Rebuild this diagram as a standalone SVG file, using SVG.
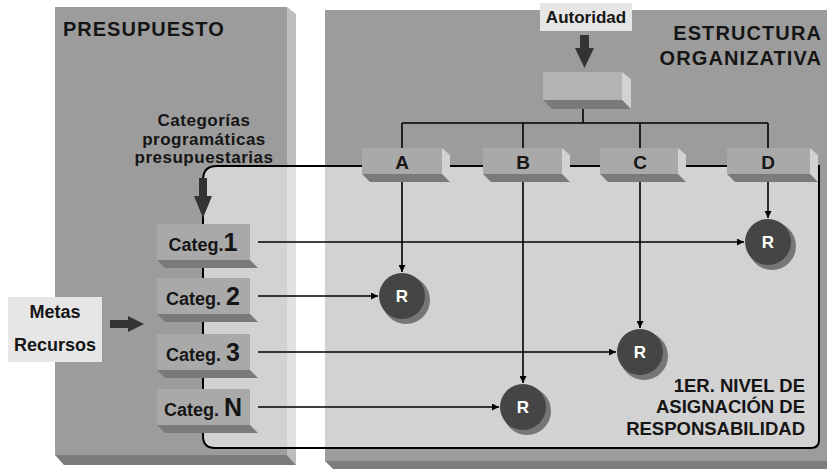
<svg xmlns="http://www.w3.org/2000/svg" width="827" height="473" viewBox="0 0 827 473">
<style>
text{font-family:"Liberation Sans",Arial,sans-serif;font-weight:bold;fill:#151515}
.panel{fill:#9c9c9c}
.pside{fill:#bdbdbd}
.pbot{fill:#7c7c7c}
.front{fill:#a9a9a9}
.side{fill:#d2d2d2}
.bot{fill:#7a7a7a}
.line{stroke:#000;stroke-width:1.6;fill:none}
.big{fill:#333}
.lbl{fill:#e6e6e6}
.rsh{fill:#767676}
.rc{fill:#454545}
.rt{fill:#fff;font-size:17px;text-anchor:middle}
.ct{font-size:18px;text-anchor:middle}
.cn{font-size:25px}
.cat{font-size:17px;letter-spacing:0.5px;text-anchor:middle}
</style>
<defs>
<marker id="ah" viewBox="0 0 10 10" refX="10" refY="5" markerWidth="7" markerHeight="7" markerUnits="userSpaceOnUse" orient="auto"><path d="M0,0 L10,5 L0,10 Z" fill="#000"/></marker>
</defs>
<rect width="827" height="473" fill="#fff"/>

<g id="presupuesto">
<polygon class="pside" points="287,7 296,14 296,465 287,455"/>
<polygon class="pbot" points="55,455 287,455 296,465 64,465"/>
<rect class="panel" x="55" y="7" width="232" height="448"/>
<text x="63" y="36" font-size="20" letter-spacing="1">PRESUPUESTO</text>
<text class="cat" x="204" y="126">Categorías</text>
<text class="cat" x="204" y="145">programáticas</text>
<text class="cat" x="204" y="163">presupuestarias</text>
</g>

<g id="estructura">
<polygon class="pbot" points="325,461 827,461 827,469 333,469"/>
<rect class="panel" x="325" y="10" width="502" height="451"/>
<text x="822" y="40" font-size="20" letter-spacing="1.1" text-anchor="end">ESTRUCTURA</text>
<text x="822" y="65" font-size="20" letter-spacing="1.1" text-anchor="end">ORGANIZATIVA</text>
</g>

<g id="nivel">
<path d="M203,180 Q203,166 217,166 L819,166 L819,440 Q819,448 811,448 L215,448 Q203,448 203,436 Z" fill="#fff" fill-opacity="0.55" stroke="#000" stroke-width="2"/>
<text x="805" y="392" font-size="18.5" text-anchor="end">1ER. NIVEL DE</text>
<text x="805" y="413" font-size="18.5" text-anchor="end">ASIGNACIÓN DE</text>
<text x="805" y="435" font-size="18.5" text-anchor="end">RESPONSABILIDAD</text>
</g>

<g id="autoridad">
<rect class="lbl" x="540" y="3" width="92" height="28"/>
<text x="586" y="23" font-size="17" text-anchor="middle">Autoridad</text>
<polygon class="big" points="580,35 589,35 589,48 594,48 584.5,68 575,48 580,48"/>
</g>

<g id="metas">
<rect class="lbl" x="8" y="297" width="94" height="65"/>
<text x="55" y="318" font-size="18" text-anchor="middle">Metas</text>
<text x="55" y="351" font-size="18" text-anchor="middle">Recursos</text>
<polygon class="big" points="110,320 128,320 128,316 144,324 128,332 128,328 110,328"/>
</g>

<g id="connectors">
<path class="line" d="M583,109 V123 M402,123 H768 M402,123 V148 M523,123 V148 M640,123 V148 M768,123 V148"/>
<line class="line" x1="203" y1="218" x2="203" y2="224"/>
<polygon class="big" points="199,178 207,178 207,196 212,196 203,218 194,196 199,196"/>
<line class="line" x1="258" y1="242" x2="744" y2="242" marker-end="url(#ah)"/>
<line class="line" x1="258" y1="296" x2="378" y2="296" marker-end="url(#ah)"/>
<line class="line" x1="258" y1="352" x2="616" y2="352" marker-end="url(#ah)"/>
<line class="line" x1="258" y1="407" x2="499" y2="407" marker-end="url(#ah)"/>
<line class="line" x1="402" y1="182" x2="402" y2="272" marker-end="url(#ah)"/>
<line class="line" x1="523" y1="182" x2="523" y2="383" marker-end="url(#ah)"/>
<line class="line" x1="640" y1="182" x2="640" y2="328" marker-end="url(#ah)"/>
<line class="line" x1="768" y1="182" x2="768" y2="218" marker-end="url(#ah)"/>
</g>

<g id="top">
<polygon class="side" points="622,72 631,79 631,109 622,100"/>
<polygon class="bot" points="543,100 622,100 631,109 552,109"/>
<rect x="543" y="72" width="79" height="28" fill="#b3b3b3"/>
</g>

<g id="A">
<polygon class="side" points="442,148 450,155 450,182 442,174"/>
<polygon class="bot" points="362,174 442,174 450,182 370,182"/>
<rect class="front" x="362" y="148" width="80" height="26"/>
<text x="402" y="169" font-size="19" text-anchor="middle">A</text>
</g>
<g id="B">
<polygon class="side" points="562,148 570,155 570,182 562,174"/>
<polygon class="bot" points="483,174 562,174 570,182 491,182"/>
<rect class="front" x="483" y="148" width="79" height="26"/>
<text x="523" y="169" font-size="19" text-anchor="middle">B</text>
</g>
<g id="C">
<polygon class="side" points="678,148 686,155 686,182 678,174"/>
<polygon class="bot" points="600,174 678,174 686,182 608,182"/>
<rect class="front" x="600" y="148" width="78" height="26"/>
<text x="640" y="169" font-size="19" text-anchor="middle">C</text>
</g>
<g id="D">
<polygon class="side" points="810,148 818,155 818,182 810,174"/>
<polygon class="bot" points="727,174 810,174 818,182 735,182"/>
<rect class="front" x="727" y="148" width="83" height="26"/>
<text x="768" y="169" font-size="19" text-anchor="middle">D</text>
</g>

<g id="categ1">
<polygon class="side" points="250,224 258,231 258,268 250,260"/>
<polygon class="bot" points="157,260 250,260 258,268 165,268"/>
<rect class="front" x="157" y="224" width="93" height="36"/>
<text class="ct" x="203" y="251">Categ.<tspan class="cn">1</tspan></text>
</g>
<g id="categ2">
<polygon class="side" points="250,278 258,285 258,322 250,314"/>
<polygon class="bot" points="157,314 250,314 258,322 165,322"/>
<rect class="front" x="157" y="278" width="93" height="36"/>
<text class="ct" x="203" y="305">Categ. <tspan class="cn">2</tspan></text>
</g>
<g id="categ3">
<polygon class="side" points="250,334 258,341 258,378 250,370"/>
<polygon class="bot" points="157,370 250,370 258,378 165,378"/>
<rect class="front" x="157" y="334" width="93" height="36"/>
<text class="ct" x="203" y="361">Categ. <tspan class="cn">3</tspan></text>
</g>
<g id="categN">
<polygon class="side" points="250,389 258,396 258,433 250,425"/>
<polygon class="bot" points="157,425 250,425 258,433 165,433"/>
<rect class="front" x="157" y="389" width="93" height="36"/>
<text class="ct" x="203" y="416">Categ. <tspan class="cn">N</tspan></text>
</g>

<g id="rA"><circle class="rsh" cx="406" cy="300" r="24"/><circle class="rc" cx="402" cy="296" r="23"/><text class="rt" x="402" y="302">R</text></g>
<g id="rB"><circle class="rsh" cx="527" cy="411" r="24"/><circle class="rc" cx="523" cy="407" r="23"/><text class="rt" x="523" y="413">R</text></g>
<g id="rC"><circle class="rsh" cx="644" cy="356" r="24"/><circle class="rc" cx="640" cy="352" r="23"/><text class="rt" x="640" y="358">R</text></g>
<g id="rD"><circle class="rsh" cx="772" cy="246" r="24"/><circle class="rc" cx="768" cy="242" r="23"/><text class="rt" x="768" y="248">R</text></g>
</svg>
